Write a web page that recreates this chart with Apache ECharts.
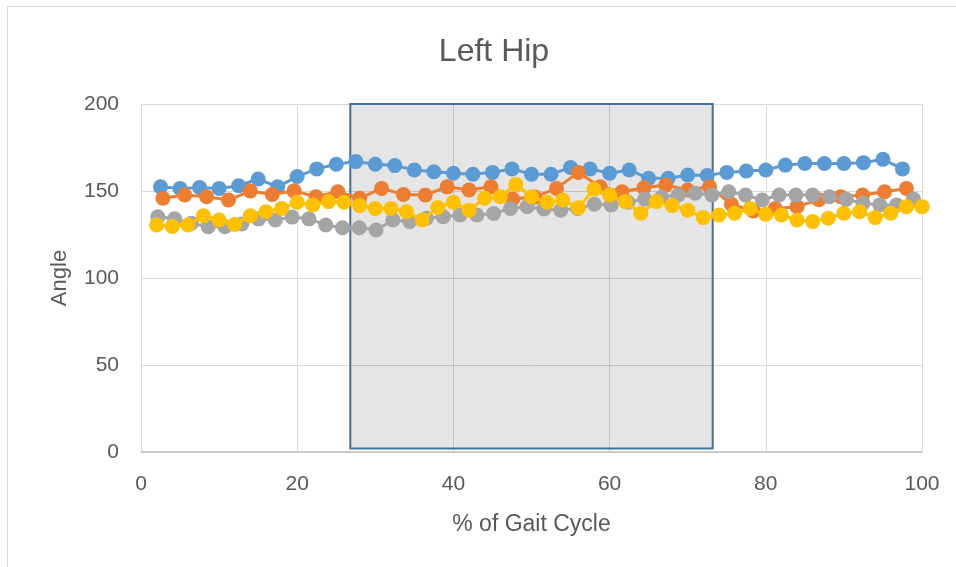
<!DOCTYPE html>
<html>
<head>
<meta charset="utf-8">
<title>Left Hip</title>
<script src="https://cdn.jsdelivr.net/npm/echarts@6/dist/echarts.min.js"></script>
<style>
  html, body { margin: 0; padding: 0; background: #ffffff; }
  #chart { width: 956px; height: 567px; }
</style>
</head>
<body>
<div id="chart"></div>
<script>
// Hip angle per trial, each trial normalised to % of gait cycle
const xTrial1 = [2.5,5,7.5,10,12.5,15,17.5,20,22.5,25,27.5,30,32.5,35,37.5,40,42.5,45,47.5,50,52.5,55,57.5,60,62.5,65,67.5,70,72.5,75,77.5,80,82.5,85,87.5,90,92.5,95,97.5];
const yTrial1 = [152.4,151.5,152,151.5,153,156.9,152.4,158.3,162.7,165.4,166.9,165.4,164.6,162.1,161.1,160.2,159.6,160.7,162.7,159.6,159.6,163.5,162.7,160.2,162.1,157.3,157.3,159.2,158.9,160.7,161.5,162.1,164.9,165.8,165.8,165.8,166.3,168.2,162.7];

const xTrial2 = [2.8,5.6,8.4,11.2,14,16.8,19.6,22.4,25.2,28,30.8,33.6,36.4,39.2,42,44.8,47.6,50.4,53.2,56,58.8,61.6,64.4,67.2,70,72.8,75.6,78.4,81.2,84,86.8,89.6,92.4,95.2,98];
const yTrial2 = [145.8,147.7,146.7,144.8,150,148,150.1,146.7,149.6,145.8,151.5,148,147.7,152.4,150.6,152.4,145.4,146.5,151.5,160.7,152.4,149.6,151.9,153.4,150.6,152.4,142.4,138.5,140,141,145,146.7,147.7,149.6,151.5];

const xTrial3 = [2.15,4.3,6.45,8.6,10.75,12.9,15.05,17.2,19.35,21.5,23.65,25.8,27.95,30.1,32.25,34.4,36.55,38.7,40.85,43,45.15,47.3,49.45,51.6,53.75,55.9,58.05,60.2,62.35,64.5,66.65,68.8,70.95,73.1,75.25,77.4,79.55,81.7,83.85,86,88.15,90.3,92.45,94.6,96.75,98.9];
const yTrial3 = [135.2,134,131.5,129.5,129.5,131,134,133.3,135,134,130.5,128.9,128.9,127.6,133.3,132.4,134.3,135.2,136.2,136.2,137.1,140,141,139.7,139,140,142.4,142,143.5,145.4,146.5,147.7,148.7,147.7,149.6,147.7,144.8,147.7,147.7,147.7,146.7,145.2,142.9,142,142,145.4];

const xTrial4 = [2,4,6,8,10,12,14,16,18,20,22,24,26,28,30,32,34,36,38,40,42,44,46,48,50,52,54,56,58,60,62,64,66,68,70,72,74,76,78,80,82,84,86,88,90,92,94,96,98,100];
const yTrial4 = [130.5,129.6,130.5,135.8,133.3,130.8,135.8,138.1,140,143.5,142,143.9,143.5,141.6,140,140,138.1,133.3,140.5,143.5,139,145.8,146.7,153.8,146.7,143.5,144.8,140.4,151.1,147.7,143.9,137.2,143.9,141.6,139,134.7,136.2,137.2,140,136.6,136.2,133.3,132.4,134.3,137.2,138.1,134.7,137.2,141,141];

// Highlighted mid-stance window (x range, y range)
const windowX = [26.8, 73.2];
const windowY = [2, 200];

const xTicks = { min: 0, max: 100, interval: 20 };
const yTicks = { min: 0, max: 200, interval: 50 };

const palette = ['#5B9BD5', '#ED7D31', '#A5A5A5', '#FFC000'];
const trials = [
  [xTrial1, yTrial1],
  [xTrial2, yTrial2],
  [xTrial3, yTrial3],
  [xTrial4, yTrial4]
];

const textColor = '#595959';
const fontFamily = '"Liberation Sans", Arial, sans-serif';

const series = trials.map(([xs, ys], i) => ({
  type: 'line',
  data: xs.map((x, j) => [x, ys[j]]),
  symbol: 'circle',
  symbolSize: 15,
  showSymbol: true,
  z: 2 + i,
  lineStyle: { color: palette[i], width: 3 },
  itemStyle: { color: palette[i], borderWidth: 0 },
  emphasis: { disabled: true },
  animation: false
}));

// Translucent window drawn over the traces
series.push({
  type: 'line',
  data: [],
  z: 10,
  markArea: {
    silent: true,
    itemStyle: {
      color: 'rgba(0,0,0,0.1)',
      borderColor: '#41719C',
      borderWidth: 2
    },
    data: [[{ coord: [windowX[0], windowY[0]] }, { coord: [windowX[1], windowY[1]] }]]
  },
  animation: false
});

const chart = echarts.init(document.getElementById('chart'), null, { renderer: 'canvas' });
chart.setOption({
  backgroundColor: '#ffffff',
  animation: false,
  title: {
    text: 'Left Hip',
    left: 489,
    textAlign: 'center',
    top: 31,
    textStyle: { color: textColor, fontSize: 32, fontWeight: 'normal', fontFamily: fontFamily }
  },
  graphic: [{
    type: 'rect',
    shape: { x: 7.5, y: 6.5, width: 1000, height: 1000 },
    style: { fill: 'none', stroke: '#D9D9D9', lineWidth: 1 },
    silent: true
  }],
  grid: { left: 141, right: 34, top: 104, bottom: 115 },
  xAxis: {
    type: 'value',
    min: xTicks.min, max: xTicks.max, interval: xTicks.interval,
    name: '% of Gait Cycle',
    nameLocation: 'middle',
    nameGap: 61,
    nameTextStyle: { color: textColor, fontSize: 23, fontFamily: fontFamily },
    axisLine: { show: true, lineStyle: { color: '#BFBFBF', width: 1.5 } },
    axisTick: { show: false },
    axisLabel: { color: textColor, fontSize: 21, margin: 22, fontFamily: fontFamily },
    splitLine: { show: true, lineStyle: { color: '#D9D9D9', width: 1 } }
  },
  yAxis: {
    type: 'value',
    min: yTicks.min, max: yTicks.max, interval: yTicks.interval,
    name: 'Angle',
    nameLocation: 'middle',
    nameGap: 70,
    nameTextStyle: { color: textColor, fontSize: 22, fontFamily: fontFamily },
    axisLine: { show: false },
    axisTick: { show: false },
    axisLabel: { color: textColor, fontSize: 21, margin: 22, fontFamily: fontFamily },
    splitLine: { show: true, lineStyle: { color: '#D9D9D9', width: 1 } }
  },
  series: series
});
</script>
</body>
</html>
